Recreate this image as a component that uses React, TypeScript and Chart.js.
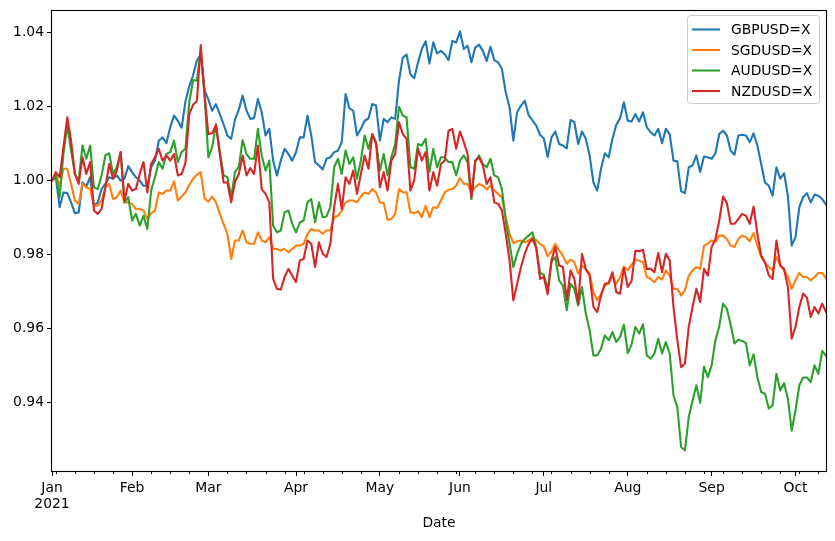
import React, { useEffect, useRef } from 'react';
import { Chart, registerables } from 'chart.js';

Chart.register(...registerables);

// Business-day index (0 = 2021-01-01) of the first trading day of each month
const monthTickIndex = [0, 21, 41, 64, 86, 107, 129, 151, 173, 195];
const monthTickLabels: (string | string[])[] = [['Jan', '2021'], 'Feb', 'Mar', 'Apr', 'May', 'Jun', 'Jul', 'Aug', 'Sep', 'Oct'];
const yTicks = [0.94, 0.96, 0.98, 1.0, 1.02, 1.04];
const seriesNames = ['GBPUSD=X', 'SGDUSD=X', 'AUDUSD=X', 'NZDUSD=X'];
const seriesColors = ['#1f77b4', '#ff7f0e', '#2ca02c', '#d62728'];
const xTitle = 'Date';

const gbpusd = [
  1.0000,
  1.0009, 0.9928, 0.9968, 0.9966, 0.9941, 0.9912, 0.9914, 0.9995, 0.9984, 1.0009,
  0.9932, 0.9941, 0.9977, 0.9991, 1.0009, 1.0005, 1.0014, 1.0000, 1.0005, 1.0039,
  1.0023, 1.0009, 1.0000, 0.9986, 0.9986, 1.0036, 1.0054, 1.0108, 1.0117, 1.0101,
  1.0144, 1.0176, 1.0162, 1.0143, 1.0214, 1.0255, 1.0285, 1.0325, 1.0342, 1.0245,
  1.0220, 1.0189, 1.0207, 1.0180, 1.0152, 1.0122, 1.0113, 1.0165, 1.0192, 1.0230,
  1.0190, 1.0167, 1.0169, 1.0221, 1.0185, 1.0122, 1.0140, 1.0054, 1.0014, 1.0054,
  1.0086, 1.0072, 1.0054, 1.0077, 1.0117, 1.0117, 1.0176, 1.0122, 1.0050, 1.0041,
  1.0030, 1.0059, 1.0063, 1.0077, 1.0081, 1.0104, 1.0234, 1.0196, 1.0189, 1.0122,
  1.0140, 1.0162, 1.0168, 1.0207, 1.0203, 1.0108, 1.0167, 1.0158, 1.0171, 1.0167,
  1.0270, 1.0333, 1.0341, 1.0288, 1.0277, 1.0320, 1.0356, 1.0377, 1.0317, 1.0374,
  1.0344, 1.0351, 1.0342, 1.0326, 1.0378, 1.0374, 1.0404, 1.0356, 1.0365, 1.0320,
  1.0360, 1.0368, 1.0351, 1.0324, 1.0362, 1.0326, 1.0320, 1.0302, 1.0239, 1.0198,
  1.0108, 1.0185, 1.0203, 1.0216, 1.0177, 1.0163, 1.0149, 1.0124, 1.0114, 1.0064,
  1.0117, 1.0133, 1.0099, 1.0095, 1.0087, 1.0164, 1.0158, 1.0099, 1.0133, 1.0113,
  1.0068, 0.9995, 0.9973, 1.0032, 1.0074, 1.0063, 1.0113, 1.0151, 1.0169, 1.0212,
  1.0162, 1.0160, 1.0180, 1.0160, 1.0185, 1.0144, 1.0131, 1.0122, 1.0140, 1.0101,
  1.0140, 1.0126, 1.0054, 1.0052, 0.9971, 0.9966, 1.0036, 1.0041, 1.0068, 1.0023,
  1.0065, 1.0063, 1.0059, 1.0074, 1.0126, 1.0135, 1.0122, 1.0081, 1.0070, 1.0122,
  1.0124, 1.0122, 1.0104, 1.0128, 1.0095, 1.0045, 0.9995, 0.9986, 0.9959, 1.0036,
  1.0005, 1.0020, 0.9959, 0.9824, 0.9847, 0.9928, 0.9955, 0.9966, 0.9941, 0.9962,
  0.9959, 0.9950, 0.9935,
];

const sgdusd = [
  1.0000,
  1.0014, 0.9986, 1.0032, 1.0032, 0.9991, 0.9946, 0.9937, 0.9991, 0.9982, 0.9977,
  0.9932, 0.9932, 0.9946, 0.9982, 0.9991, 0.9950, 0.9955, 0.9973, 0.9941, 0.9941,
  0.9937, 0.9923, 0.9923, 0.9919, 0.9896, 0.9912, 0.9919, 0.9968, 0.9964, 0.9973,
  0.9973, 0.9998, 0.9946, 0.9957, 0.9968, 0.9988, 1.0005, 1.0016, 1.0023, 0.9952,
  0.9943, 0.9957, 0.9941, 0.9910, 0.9883, 0.9856, 0.9788, 0.9838, 0.9838, 0.9865,
  0.9833, 0.9829, 0.9829, 0.9860, 0.9838, 0.9833, 0.9847, 0.9815, 0.9815, 0.9811,
  0.9815, 0.9806, 0.9815, 0.9824, 0.9824, 0.9829, 0.9856, 0.9869, 0.9865, 0.9865,
  0.9856, 0.9865, 0.9865, 0.9901, 0.9905, 0.9919, 0.9941, 0.9946, 0.9946, 0.9941,
  0.9957, 0.9968, 0.9964, 0.9977, 0.9968, 0.9941, 0.9939, 0.9894, 0.9896, 0.9910,
  0.9977, 0.9968, 0.9968, 0.9914, 0.9912, 0.9917, 0.9901, 0.9932, 0.9901, 0.9928,
  0.9926, 0.9946, 0.9968, 0.9975, 0.9977, 0.9986, 1.0007, 0.9991, 0.9991, 0.9968,
  0.9982, 0.9991, 0.9986, 0.9977, 0.9986, 0.9973, 0.9964, 0.9955, 0.9901, 0.9856,
  0.9831, 0.9836, 0.9838, 0.9833, 0.9838, 0.9846, 0.9839, 0.9829, 0.9822, 0.9795,
  0.9808, 0.9829, 0.9811, 0.9797, 0.9775, 0.9786, 0.9779, 0.9748, 0.9770, 0.9759,
  0.9748, 0.9698, 0.9676, 0.9694, 0.9716, 0.9721, 0.9743, 0.9721, 0.9739, 0.9767,
  0.9757, 0.9772, 0.9787, 0.9783, 0.9779, 0.9739, 0.9734, 0.9725, 0.9739, 0.9732,
  0.9757, 0.9743, 0.9707, 0.9707, 0.9689, 0.9703, 0.9743, 0.9757, 0.9766, 0.9761,
  0.9824, 0.9829, 0.9838, 0.9833, 0.9851, 0.9851, 0.9842, 0.9824, 0.9820, 0.9842,
  0.9851, 0.9847, 0.9836, 0.9858, 0.9824, 0.9793, 0.9777, 0.9766, 0.9757, 0.9793,
  0.9770, 0.9757, 0.9739, 0.9707, 0.9730, 0.9750, 0.9739, 0.9739, 0.9730, 0.9739,
  0.9750, 0.9750, 0.9736,
];

const audusd = [
  1.0000,
  1.0014, 0.9955, 1.0072, 1.0149, 1.0081, 1.0018, 1.0000, 1.0095, 1.0059, 1.0095,
  0.9982, 0.9977, 1.0014, 1.0068, 1.0074, 1.0018, 1.0036, 1.0077, 0.9941, 0.9955,
  0.9892, 0.9910, 0.9878, 0.9905, 0.9869, 0.9973, 1.0009, 1.0050, 1.0032, 1.0072,
  1.0077, 1.0108, 1.0050, 1.0077, 1.0086, 1.0212, 1.0272, 1.0270, 1.0351, 1.0234,
  1.0063, 1.0090, 1.0153, 1.0079, 1.0014, 1.0009, 0.9955, 1.0023, 1.0038, 1.0110,
  1.0072, 1.0059, 1.0059, 1.0140, 1.0068, 1.0027, 1.0054, 0.9878, 0.9860, 0.9865,
  0.9914, 0.9919, 0.9883, 0.9860, 0.9887, 0.9892, 0.9941, 0.9950, 0.9887, 0.9941,
  0.9901, 0.9903, 0.9928, 1.0036, 1.0059, 1.0018, 1.0081, 1.0045, 1.0063, 1.0005,
  1.0054, 1.0122, 1.0086, 1.0126, 1.0104, 1.0027, 1.0072, 1.0014, 1.0063, 1.0099,
  1.0200, 1.0176, 1.0171, 1.0036, 1.0032, 1.0099, 1.0095, 1.0113, 1.0023, 1.0086,
  1.0036, 1.0063, 1.0063, 1.0050, 1.0050, 1.0014, 1.0054, 1.0068, 1.0050, 0.9950,
  1.0050, 1.0068, 1.0045, 1.0036, 1.0059, 1.0014, 1.0009, 0.9977, 0.9892, 0.9829,
  0.9766, 0.9802, 0.9829, 0.9842, 0.9851, 0.9860, 0.9820, 0.9750, 0.9745, 0.9705,
  0.9780, 0.9793, 0.9730, 0.9716, 0.9649, 0.9721, 0.9707, 0.9662, 0.9712, 0.9640,
  0.9595, 0.9527, 0.9527, 0.9545, 0.9581, 0.9568, 0.9590, 0.9563, 0.9577, 0.9610,
  0.9533, 0.9556, 0.9604, 0.9586, 0.9611, 0.9527, 0.9518, 0.9532, 0.9572, 0.9532,
  0.9563, 0.9532, 0.9419, 0.9387, 0.9279, 0.9270, 0.9360, 0.9405, 0.9446, 0.9398,
  0.9497, 0.9468, 0.9500, 0.9568, 0.9606, 0.9667, 0.9653, 0.9610, 0.9559, 0.9569,
  0.9566, 0.9560, 0.9500, 0.9530, 0.9468, 0.9428, 0.9423, 0.9383, 0.9392, 0.9477,
  0.9432, 0.9452, 0.9410, 0.9323, 0.9378, 0.9446, 0.9467, 0.9467, 0.9455, 0.9500,
  0.9477, 0.9539, 0.9526,
];

const nzdusd = [
  1.0000,
  1.0023, 1.0009, 1.0090, 1.0171, 1.0108, 1.0018, 0.9991, 1.0063, 1.0018, 1.0050,
  0.9919, 0.9910, 0.9923, 0.9982, 1.0045, 1.0005, 1.0027, 1.0077, 0.9946, 0.9991,
  0.9973, 0.9977, 1.0018, 1.0050, 0.9968, 1.0045, 1.0063, 1.0086, 1.0054, 1.0068,
  1.0054, 1.0072, 1.0014, 1.0018, 1.0048, 1.0180, 1.0205, 1.0216, 1.0367, 1.0234,
  1.0126, 1.0128, 1.0150, 1.0072, 0.9995, 0.9995, 0.9941, 0.9997, 1.0018, 1.0068,
  1.0014, 1.0034, 1.0018, 1.0095, 0.9977, 0.9964, 0.9941, 0.9734, 0.9707, 0.9705,
  0.9739, 0.9761, 0.9743, 0.9725, 0.9784, 0.9788, 0.9838, 0.9829, 0.9766, 0.9833,
  0.9802, 0.9793, 0.9829, 0.9928, 0.9991, 0.9923, 1.0009, 0.9991, 1.0027, 0.9964,
  1.0018, 1.0068, 1.0032, 1.0126, 1.0099, 0.9982, 1.0023, 0.9973, 1.0054, 1.0072,
  1.0158, 1.0126, 1.0113, 0.9973, 1.0000, 1.0086, 1.0054, 1.0077, 0.9973, 1.0023,
  0.9986, 1.0045, 1.0054, 1.0135, 1.0140, 1.0086, 1.0133, 1.0104, 1.0072, 0.9955,
  1.0054, 1.0063, 1.0041, 0.9991, 1.0009, 0.9941, 0.9937, 0.9919, 0.9856, 0.9784,
  0.9676, 0.9721, 0.9766, 0.9802, 0.9829, 0.9842, 0.9818, 0.9734, 0.9739, 0.9692,
  0.9784, 0.9820, 0.9770, 0.9766, 0.9676, 0.9757, 0.9734, 0.9667, 0.9802, 0.9761,
  0.9743, 0.9658, 0.9644, 0.9689, 0.9721, 0.9723, 0.9752, 0.9698, 0.9694, 0.9764,
  0.9712, 0.9728, 0.9810, 0.9809, 0.9813, 0.9761, 0.9761, 0.9752, 0.9804, 0.9752,
  0.9802, 0.9784, 0.9658, 0.9568, 0.9495, 0.9505, 0.9604, 0.9658, 0.9707, 0.9671,
  0.9761, 0.9743, 0.9820, 0.9842, 0.9892, 0.9957, 0.9939, 0.9883, 0.9883, 0.9896,
  0.9910, 0.9905, 0.9883, 0.9930, 0.9856, 0.9797, 0.9779, 0.9743, 0.9734, 0.9838,
  0.9770, 0.9761, 0.9712, 0.9572, 0.9604, 0.9658, 0.9694, 0.9683, 0.9631, 0.9658,
  0.9640, 0.9667, 0.9645,
];

const seriesValues = [gbpusd, sgdusd, audusd, nzdusd];

const FONT_FAMILY = "'DejaVu Sans', 'Liberation Sans', sans-serif";
const FONT_SIZE = 13.9;

const framePlugin = {
  id: 'mplFrame',
  afterDraw(chart: any) {
    const { ctx, chartArea } = chart;
    const { left, top, right, bottom } = chartArea;
    const xs = chart.scales.x;
    ctx.save();
    // minor ticks (weekly, Mondays)
    ctx.strokeStyle = '#000';
    ctx.lineWidth = 1;
    ctx.beginPath();
    for (let i = 1; i <= xs.max; i += 5) {
      if (monthTickIndex.indexOf(i) >= 0) continue;
      const px = Math.round(xs.getPixelForValue(i)) + 0.5;
      ctx.moveTo(px, bottom);
      ctx.lineTo(px, bottom + 3);
    }
    ctx.stroke();
    // frame
    ctx.lineWidth = 1.1;
    ctx.strokeRect(Math.round(left) - 0.5, Math.round(top) - 0.5, Math.round(right) - Math.round(left) + 1, Math.round(bottom) - Math.round(top) + 1);

    // legend
    const bx = 687.5, by = 15.5, bw = 132, bh = 88, r = 3;
    ctx.beginPath();
    ctx.moveTo(bx + r, by);
    ctx.lineTo(bx + bw - r, by);
    ctx.arcTo(bx + bw, by, bx + bw, by + r, r);
    ctx.lineTo(bx + bw, by + bh - r);
    ctx.arcTo(bx + bw, by + bh, bx + bw - r, by + bh, r);
    ctx.lineTo(bx + r, by + bh);
    ctx.arcTo(bx, by + bh, bx, by + bh - r, r);
    ctx.lineTo(bx, by + r);
    ctx.arcTo(bx, by, bx + r, by, r);
    ctx.closePath();
    ctx.fillStyle = 'rgba(255,255,255,0.8)';
    ctx.fill();
    ctx.strokeStyle = '#cccccc';
    ctx.lineWidth = 1;
    ctx.stroke();

    ctx.font = `${FONT_SIZE}px ${FONT_FAMILY}`;
    ctx.textBaseline = 'middle';
    ctx.textAlign = 'left';
    seriesNames.forEach((name, k) => {
      const ry = 29.5 + k * 20.5;
      ctx.strokeStyle = seriesColors[k];
      ctx.lineWidth = 2.1;
      ctx.lineCap = 'butt';
      ctx.beginPath();
      ctx.moveTo(692, ry);
      ctx.lineTo(720, ry);
      ctx.stroke();
      ctx.fillStyle = '#000';
      ctx.fillText(name, 731, ry + 1);
    });
    ctx.restore();
  },
};

export default function App() {
  const canvasRef = useRef<HTMLCanvasElement | null>(null);

  useEffect(() => {
    const canvas = canvasRef.current;
    if (!canvas) return;
    const font = { family: FONT_FAMILY, size: FONT_SIZE, lineHeight: 1.15 };
    const chart = new Chart(canvas, {
      type: 'line',
      data: {
        datasets: seriesNames.map((name, k) => ({
          label: name,
          data: seriesValues[k].map((v, i) => ({ x: i, y: v })),
          borderColor: seriesColors[k],
          backgroundColor: seriesColors[k],
          borderWidth: 2.1,
          pointRadius: 0,
          pointHoverRadius: 0,
          tension: 0,
          fill: false,
          borderJoinStyle: 'round' as const,
          borderCapStyle: 'square' as const,
          order: seriesNames.length - k,
        })),
      },
      options: {
        animation: false,
        responsive: true,
        maintainAspectRatio: false,
        devicePixelRatio: 1,
        events: [],
        layout: { padding: { left: 0, right: 9, top: 10, bottom: 0 } },
        plugins: {
          legend: { display: false },
          tooltip: { enabled: false },
        },
        scales: {
          x: {
            type: 'linear',
            min: 0,
            max: 203,
            afterBuildTicks: (scale: any) => {
              scale.ticks = monthTickIndex.map((v) => ({ value: v }));
            },
            afterFit: (scale: any) => {
              scale.height = 70;
            },
            ticks: {
              autoSkip: false,
              maxRotation: 0,
              minRotation: 0,
              padding: 4,
              color: '#000',
              font,
              callback: (_v: any, index: number) => monthTickLabels[index],
            },
            grid: {
              display: true,
              drawOnChartArea: false,
              drawTicks: true,
              tickLength: 5,
              tickColor: '#000',
              tickWidth: 1,
            },
            border: { display: false },
            title: {
              display: true,
              text: xTitle,
              color: '#000',
              font,
              padding: { top: 0, bottom: 10 },
            },
          },
          y: {
            type: 'linear',
            min: 0.9214,
            max: 1.0459,
            afterBuildTicks: (scale: any) => {
              scale.ticks = yTicks.map((v) => ({ value: v }));
            },
            afterFit: (scale: any) => {
              scale.width = 52;
            },
            ticks: {
              padding: 3,
              color: '#000',
              font,
              callback: (v: any) => Number(v).toFixed(2),
            },
            grid: {
              display: true,
              drawOnChartArea: false,
              drawTicks: true,
              tickLength: 5,
              tickColor: '#000',
              tickWidth: 1,
            },
            border: { display: false },
          },
        },
      },
      plugins: [framePlugin],
    });
    return () => chart.destroy();
  }, []);

  return (
    <div style={{ position: 'absolute', left: 0, top: 0, width: 835, height: 541, background: '#fff' }}>
      <canvas ref={canvasRef} />
    </div>
  );
}
